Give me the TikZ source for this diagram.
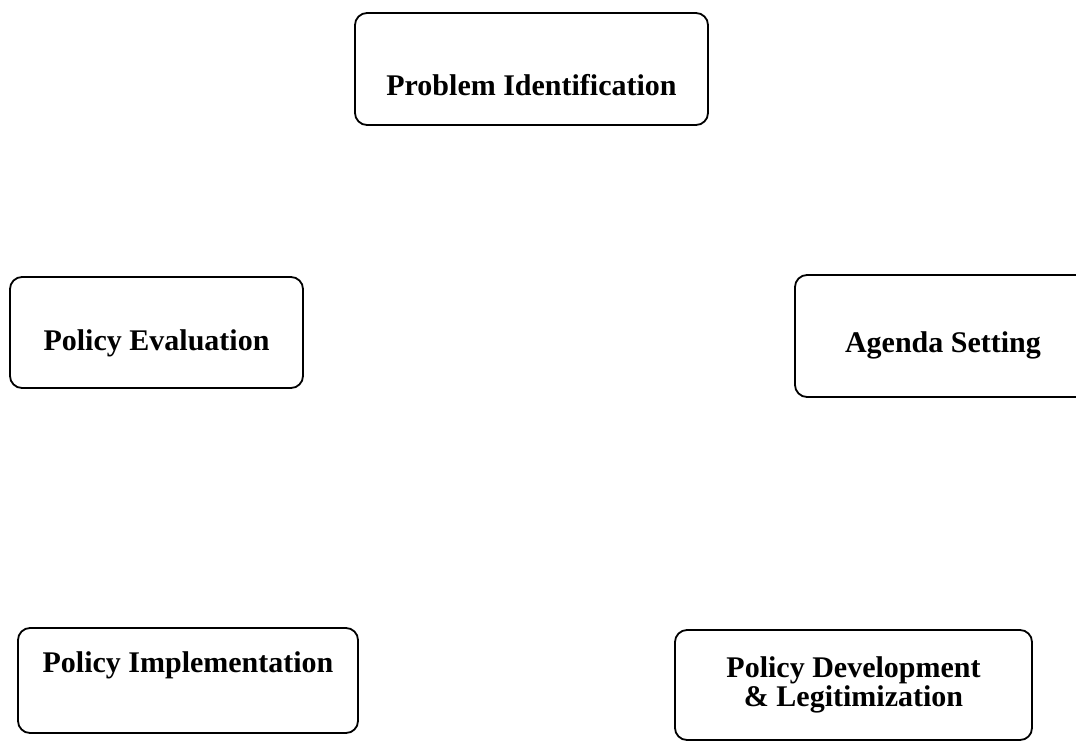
\documentclass[tikz,border=0pt]{standalone}
\usepackage{fontspec}
\setmainfont{Liberation Serif}
\usepackage{tikz}
\usetikzlibrary{positioning,shapes}
\tikzset{%
	stage/.style = {draw, rectangle, rounded corners=6pt, line width=0.9pt, text centered, inner sep=2pt, font=\fontsize{15}{13}\selectfont\bfseries},
}

\begin{document}
\begin{tikzpicture}[x=0.5pt,y=-0.5pt]
	\useasboundingbox (0,0) rectangle (1076,744);
	% the five stages
	\node[stage, minimum width=176.5pt, minimum height=56pt, text height=26pt, text depth=0pt] (prob) at (531.5,69) {Problem Identification};
	\node[stage, minimum width=146.5pt, minimum height=55.5pt, text height=18pt, text depth=0pt] (eval) at (156.5,332.5) {Policy Evaluation};
	\node[stage, minimum width=148pt, minimum height=61pt, text height=16pt, text depth=0pt] (agenda) at (943,336) {Agenda Setting};
	\node[stage, minimum width=170pt, minimum height=52.5pt, text height=4pt, text depth=12pt] (impl) at (188,680.5) {Policy Implementation};
	\node[stage, minimum width=178.5pt, minimum height=55pt, align=center] (dev) at (853.5,685) {Policy Development\\ \& Legitimization};
\end{tikzpicture}
\end{document}
